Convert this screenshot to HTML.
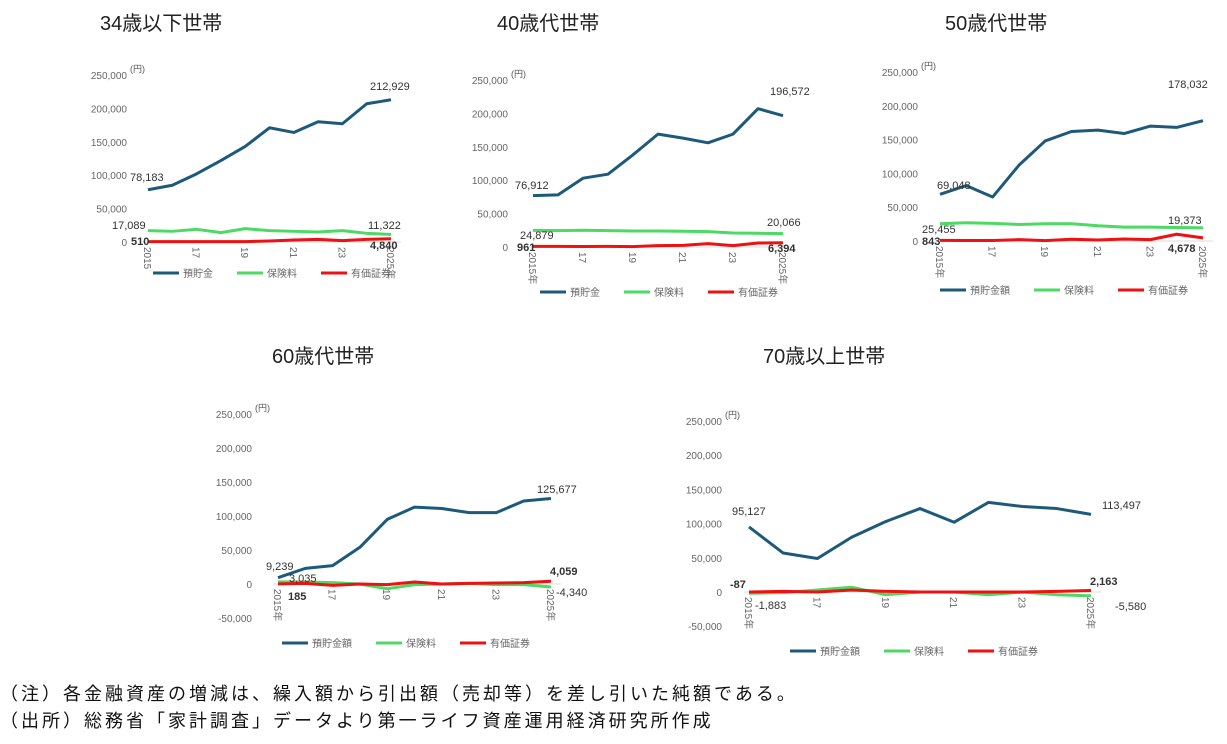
<!DOCTYPE html>
<html><head><meta charset="utf-8">
<style>
body{margin:0;background:#fff;width:1227px;height:744px;overflow:hidden;font-family:"Liberation Sans","Noto Sans CJK JP",sans-serif}
svg text{font-family:"Liberation Sans","Noto Sans CJK JP",sans-serif}
.note{position:absolute;left:0;font-size:18px;color:#111;white-space:nowrap;letter-spacing:3px}
</style></head><body>
<svg id="s" width="1227" height="744" style="position:absolute;left:0;top:0"></svg>
<div class="note" style="top:680px">（注）各金融資産の増減は、繰入額から引出額（売却等）を差し引いた純額である。</div>
<div class="note" style="top:707px">（出所）総務省「家計調査」データより第一ライフ資産運用経済研究所作成</div>
<script>
const P=[
{t:"34歳以下世帯",tx:100,ty:30,yr:127,y250:75,y0:242,neg:false,x0:148,x1:391,leg:273,lg:["預貯金","保険料","有価証券"],lx:153,
b:[78183,85000,102000,122000,143000,171000,164000,180000,177000,207000,212929],
g:[17089,16000,19000,14000,20000,17000,16000,15000,17000,13000,11322],
r:[510,500,600,500,600,1500,3000,4000,2000,4000,4840],
lab:[["78,183",130,181],["212,929",370,90],["17,089",112,229],["11,322",368,229],["510",131,245,1],["4,840",370,249,1]],first:"2015"},
{t:"40歳代世帯",tx:497,ty:30,yr:508,y250:80,y0:247,neg:false,x0:533,x1:783,leg:292,lg:["預貯金","保険料","有価証券"],lx:540,
b:[76912,78000,103000,109000,138000,169000,163000,156000,169000,207000,196572],
g:[24879,24500,25000,24500,24000,24000,23500,23000,21000,20500,20066],
r:[961,900,800,900,600,2000,2500,5000,2000,6000,6394],
lab:[["76,912",515,189],["196,572",770,95],["24,879",520,239],["20,066",767,226],["961",517,251,1],["6,394",768,252,1]],first:"2015年"},
{t:"50歳代世帯",tx:945,ty:30,yr:918,y250:72,y0:241,neg:false,x0:940,x1:1203,leg:290,lg:["預貯金額","保険料","有価証券"],lx:940,
b:[69048,82000,65000,112000,148000,162000,164000,159000,170000,168000,178032],
g:[25455,27000,26000,24500,25500,25500,22500,20500,20500,20000,19373],
r:[843,800,700,2000,600,2500,1500,3000,2000,10000,4678],
lab:[["69,048",937,189],["178,032",1168,88],["25,455",922,233],["19,373",1168,224],["843",922,245,1],["4,678",1168,252,1]],first:"2015年"},
{t:"60歳代世帯",tx:272,ty:363,yr:252,y250:414,y0:584,neg:true,x0:278,x1:551,leg:643,lg:["預貯金額","保険料","有価証券"],lx:282,
b:[9239,23000,27000,54000,95000,113000,111000,105000,105000,122000,125677],
g:[3035,3000,2000,0,-7000,-1000,0,1000,-1000,-1000,-4340],
r:[185,1000,-2000,0,-1000,3000,0,1000,1500,2000,4059],
lab:[["9,239",266,570],["125,677",537,493],["3,035",289,582],["-4,340",556,596],["185",288,600,1],["4,059",550,575,1]],first:"2015年"},
{t:"70歳以上世帯",tx:763,ty:363,yr:722,y250:421,y0:592,neg:true,x0:749,x1:1091,leg:651,lg:["預貯金額","保険料","有価証券"],lx:790,
b:[95127,57000,49000,80000,103000,122000,102000,131000,125000,122000,113497],
g:[-1883,-1000,3000,7000,-4000,0,0,-4000,0,-4000,-5580],
r:[-87,1000,0,3000,1000,0,0,0,0,1000,2163],
lab:[["95,127",732,515],["113,497",1102,509],["-1,883",755,609],["-5,580",1115,610],["-87",730,588,1],["2,163",1090,585,1]],first:"2015年"}
];
let h="";
for(const p of P){
 const k=(p.y0-p.y250)/250000,Y=v=>p.y0-v*k,X=i=>p.x0+(p.x1-p.x0)*i/10;
 h+=`<text x="${p.tx}" y="${p.ty}" font-size="20" fill="#222">${p.t}</text>`;
 const ticks=p.neg?[250000,200000,150000,100000,50000,0,-50000]:[250000,200000,150000,100000,50000,0];
 for(const t of ticks){h+=`<text x="${p.yr}" y="${Y(t)+4}" font-size="10" fill="#666" text-anchor="end">${t.toLocaleString("en-US")}</text>`;}
 h+=`<text x="${p.yr+3}" y="${p.y250-3}" font-size="9" fill="#555">(円)</text>`;
 h+=`<line x1="${p.x0-5}" x2="${p.x1+10}" y1="${p.y0}" y2="${p.y0}" stroke="#ddd"/>`;
 const xl=[[0,p.first],[2,"17"],[4,"19"],[6,"21"],[8,"23"],[10,"2025年"]];
 for(const [i,s] of xl){h+=`<text transform="translate(${X(i)-4},${p.y0+5}) rotate(90)" font-size="10" fill="#666">${s}</text>`;}
 const pl=(d,c)=>`<polyline fill="none" stroke="${c}" stroke-width="3" stroke-linejoin="round" points="${d.map((v,i)=>X(i)+","+Y(v)).join(" ")}"/>`;
 h+=pl(p.g,"#4cd964")+pl(p.r,"#ee1111")+pl(p.b,"#1d5a7a");
 for(const l of p.lab){h+=`<text x="${l[1]}" y="${l[2]}" font-size="11" fill="#333" ${l[3]?'font-weight="bold"':''}>${l[0]}</text>`;}
 const cs=["#1d5a7a","#4cd964","#ee1111"];let lx=p.lx;
 for(let j=0;j<3;j++){h+=`<line x1="${lx}" x2="${lx+26}" y1="${p.leg}" y2="${p.leg}" stroke="${cs[j]}" stroke-width="3"/><text x="${lx+30}" y="${p.leg+4}" font-size="10" fill="#666">${p.lg[j]}</text>`;lx+=30+p.lg[j].length*10+24;}
}
document.getElementById("s").innerHTML=h;
</script>
</body></html>
